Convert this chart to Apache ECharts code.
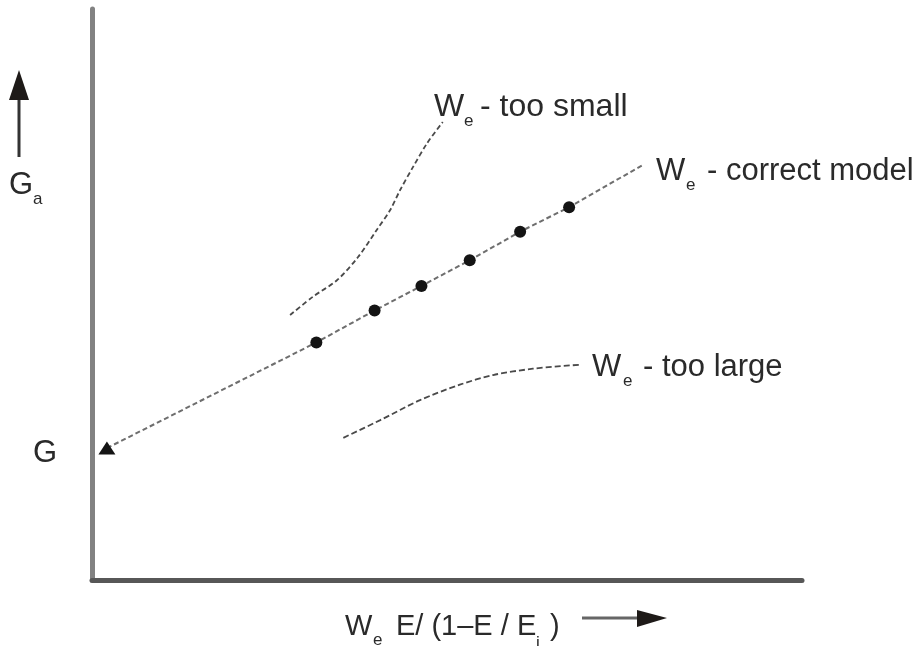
<!DOCTYPE html>
<html>
<head>
<meta charset="utf-8">
<title>Model selection plot</title>
<script src="https://cdn.jsdelivr.net/npm/echarts@6/dist/echarts.min.js"></script>
<style>
  html, body { margin: 0; padding: 0; background: #ffffff; }
  #chart { width: 921px; height: 646px; }
</style>
</head>
<body>
<div id="chart"></div>
<script>
// Correct model: intercept point (triangle), measured points (dots), line continues past last dot
const correctX = [0.21, 3.16, 3.98, 4.64, 5.32, 6.03, 6.72, 7.76];
const correctY = [2.31, 4.16, 4.72, 5.15, 5.60, 6.10, 6.53, 7.27];
const correctSymbols = ['triangle', 'circle', 'circle', 'circle', 'circle', 'circle', 'circle', 'none'];

// W_e too small: curve bends upward
const smallX = [2.79, 3.11, 3.45, 3.75, 4.01, 4.20, 4.34, 4.52, 4.72, 4.94];
const smallY = [4.64, 4.96, 5.25, 5.66, 6.13, 6.48, 6.83, 7.23, 7.65, 8.02];

// W_e too large: curve flattens out
const largeX = [3.54, 4.06, 4.62, 5.18, 5.65, 6.21, 6.87];
const largeY = [2.49, 2.80, 3.15, 3.42, 3.59, 3.70, 3.77];

const FONT = '"Liberation Sans", Arial, sans-serif';
const TEXT_COLOR = '#2a2a2a';

function pairs(xs, ys) {
  return xs.map((x, i) => [x, ys[i]]);
}

// A label made of a main word, a subscript and trailing text
function labelParts(wx, baseline, main, subX, sub, restX, rest, size) {
  size = size || 31;
  const mid = baseline - size * 0.3465;
  const parts = [
    { type: 'text', x: wx, y: mid, style: { text: main, font: size + 'px ' + FONT, fill: TEXT_COLOR, verticalAlign: 'middle' } },
    { type: 'text', x: subX, y: baseline + 3, style: { text: sub, font: '17px ' + FONT, fill: TEXT_COLOR, verticalAlign: 'middle' } }
  ];
  if (rest) {
    parts.push({ type: 'text', x: restX, y: mid, style: { text: rest, font: size + 'px ' + FONT, fill: TEXT_COLOR, verticalAlign: 'middle' } });
  }
  return parts;
}

const chart = echarts.init(document.getElementById('chart'), null, { renderer: 'canvas' });

const graphics = [].concat(
  labelParts(434, 118, 'W', 464, 'e', 480, '- too small', 32),
  labelParts(656, 182, 'W', 686, 'e', 707, '- correct model'),
  labelParts(592, 378, 'W', 623, 'e', 643, '- too large'),
  // x-axis title
  labelParts(345, 637, 'W', 373, 'e', 396, 'E/ (1\u2013E / E', 29),
  [
    { type: 'text', x: 536, y: 643, style: { text: 'i', font: '17px ' + FONT, fill: TEXT_COLOR, verticalAlign: 'middle' } },
    { type: 'text', x: 550, y: 637 - 10, style: { text: ')', font: '29px ' + FONT, fill: TEXT_COLOR, verticalAlign: 'middle' } }
  ],
  // y-axis title G_a and intercept label G
  labelParts(9, 196, 'G', 33, 'a', 0, null),
  [
    { type: 'text', x: 33, y: 464 - 10.7, style: { text: 'G', font: '31px ' + FONT, fill: TEXT_COLOR, verticalAlign: 'middle' } },
    // vertical direction arrow
    { type: 'line', shape: { x1: 19, y1: 157, x2: 19, y2: 96 }, style: { stroke: '#333', lineWidth: 3 } },
    { type: 'polygon', shape: { points: [[9, 100], [29, 100], [19, 70]] }, style: { fill: '#1e1a18' } },
    // horizontal direction arrow
    { type: 'line', shape: { x1: 582, y1: 618, x2: 642, y2: 618 }, style: { stroke: '#666', lineWidth: 3 } },
    { type: 'polygon', shape: { points: [[637, 610], [637, 627], [667, 618]] }, style: { fill: '#1e1a18' } }
  ]
);

chart.setOption({
  animation: false,
  backgroundColor: '#ffffff',
  grid: { left: 92, right: 119, top: 9, bottom: 66 },
  xAxis: {
    type: 'value', min: 0, max: 10,
    axisLine: { show: true, onZero: false, lineStyle: { color: '#575757', width: 5 } },
    axisTick: { show: false }, axisLabel: { show: false }, splitLine: { show: false }
  },
  yAxis: {
    type: 'value', min: 0, max: 10,
    axisLine: { show: true, onZero: false, lineStyle: { color: '#828282', width: 5 } },
    axisTick: { show: false }, axisLabel: { show: false }, splitLine: { show: false }
  },
  series: [
    {
      name: 'W_e - correct model',
      type: 'line',
      data: pairs(correctX, correctY).map((p, i) => ({
        value: p,
        symbol: correctSymbols[i],
        symbolSize: correctSymbols[i] === 'triangle' ? [17, 13] : 12
      })),
      itemStyle: { color: '#141414' },
      lineStyle: { color: '#6e6e6e', width: 2, type: [5, 3] },
      z: 3
    },
    {
      name: 'W_e - too small',
      type: 'line',
      smooth: 0.3,
      symbol: 'none',
      data: pairs(smallX, smallY),
      lineStyle: { color: '#4a4a4a', width: 1.8, type: [5, 3] }
    },
    {
      name: 'W_e - too large',
      type: 'line',
      smooth: 0.3,
      symbol: 'none',
      data: pairs(largeX, largeY),
      lineStyle: { color: '#4a4a4a', width: 1.8, type: [6, 3] }
    }
  ],
  graphic: graphics
});
</script>
</body>
</html>
